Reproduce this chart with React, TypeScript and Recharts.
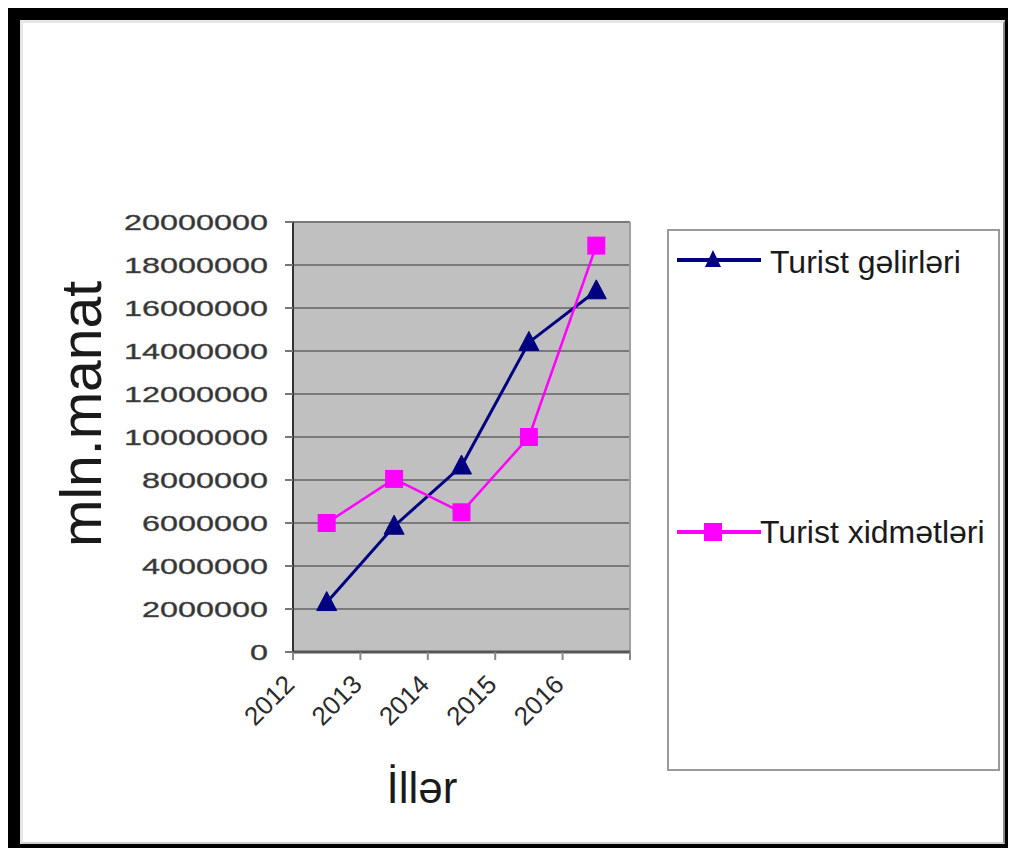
import React from 'react';
import { LineChart, Line, XAxis, YAxis, CartesianGrid, Legend, Label, ReferenceLine } from 'recharts';

const years = ['2012', '2013', '2014', '2015', '2016'];
const touristIncome = [2300000, 5850000, 8650000, 14400000, 16800000];
const touristServices = [6000000, 8050000, 6500000, 10000000, 18900000];
const yTicks = [0, 2000000, 4000000, 6000000, 8000000, 10000000, 12000000, 14000000, 16000000, 18000000, 20000000];
const xBoundaries = [0, 1, 2, 3, 4, 5];
const seriesNames = ['Turist gəlirləri', 'Turist xidmətləri'];

const data = years.map((y, i) => ({ x: i + 0.5, year: y, income: touristIncome[i], services: touristServices[i] }));

const FONT = '"Liberation Sans", Arial, sans-serif';
const NAVY = '#000080';
const MAGENTA = '#ff00ff';

const Triangle = (props: any) => {
  const { cx, cy } = props;
  if (cx == null || cy == null) return null;
  const w = 20, h = 18;
  return <polygon points={`${cx},${cy - h / 2 - 2} ${cx - w / 2},${cy + h / 2 - 1} ${cx + w / 2},${cy + h / 2 - 1}`} fill={NAVY} stroke={NAVY} strokeWidth={1} />;
};

const Square = (props: any) => {
  const { cx, cy } = props;
  if (cx == null || cy == null) return null;
  const s = 18;
  return <rect x={cx - s / 2} y={cy - s / 2} width={s} height={s} fill={MAGENTA} />;
};

const YTick = (props: any) => {
  const { x, y, payload } = props;
  const label = String(payload.value);
  const len = label.length * 18;
  return (
    <text x={x - len} y={y} dy={8} textLength={len} lengthAdjust="spacingAndGlyphs" fontSize={22} fontFamily={FONT} fill="#333" stroke="#555" strokeWidth={0.4}>
      {label}
    </text>
  );
};

const XTick = (props: any) => {
  const { x, y, payload } = props;
  const label = years[payload.value];
  if (!label) return <g />;
  const tx = x + 3, ty = y + 24;
  return (
    <text x={tx} y={ty} transform={`rotate(-45 ${tx} ${ty})`} textAnchor="end" fontSize={26} fontFamily={FONT} fill="#2a2a2a">
      {label}
    </text>
  );
};

const LegendContent = () => (
  <div style={{ position: 'relative', width: '100%', height: '100%', fontFamily: FONT }}>
    <svg width={90} height={24} style={{ position: 'absolute', left: 8, top: 17 }}>
      <line x1={0} y1={12} x2={84} y2={12} stroke={NAVY} strokeWidth={4} />
      <polygon points="36,2 28,19 44,19" fill={NAVY} />
    </svg>
    <div style={{ position: 'absolute', left: 101, top: 12, fontSize: 32, lineHeight: '38px', color: '#1a1a1a', whiteSpace: 'nowrap' }}>{seriesNames[0]}</div>
    <svg width={90} height={24} style={{ position: 'absolute', left: 8, top: 289 }}>
      <line x1={0} y1={12} x2={84} y2={12} stroke={MAGENTA} strokeWidth={4} />
      <rect x={27} y={3} width={18} height={18} fill={MAGENTA} />
    </svg>
    <div style={{ position: 'absolute', left: 91, top: 282, fontSize: 32, lineHeight: '38px', color: '#1a1a1a', whiteSpace: 'nowrap' }}>{seriesNames[1]}</div>
  </div>
);

export default function App() {
  return (
    <div style={{ margin: -8, width: 1016, height: 856, background: '#000', position: 'relative', overflow: 'hidden' }}>
      <div style={{ position: 'absolute', left: 20, top: 20, width: 985, height: 824, background: '#fff', boxSizing: 'border-box', borderTop: '3px solid #e6e6e6', borderLeft: '3px solid #e6e6e6', borderRight: '2px solid #8a8a8a', borderBottom: '2px solid #cfcfcf' }} />
      <div style={{ position: 'absolute', left: 0, top: 0 }}>
        <LineChart width={1016} height={856} data={data} margin={{ top: 222, right: 386, bottom: 0, left: 0 }}>
          <CartesianGrid vertical={false} fill="#c0c0c0" stroke="#7a7a7a" strokeWidth={2} />
          <XAxis
            type="number"
            dataKey="x"
            domain={[0, 5]}
            ticks={xBoundaries}
            interval={0}
            height={204}
            tickSize={8}
            axisLine={{ stroke: '#555', strokeWidth: 3 }}
            tickLine={{ stroke: '#888', strokeWidth: 2 }}
            tick={<XTick />}
          >
            <Label content={() => (
              <text x={422} y={803} textAnchor="middle" fontSize={44} fontFamily={FONT} fill="#1a1a1a">İllər</text>
            )} />
          </XAxis>
          <YAxis
            domain={[0, 20000000]}
            ticks={yTicks}
            interval={0}
            width={293}
            tickSize={8}
            tickMargin={17}
            axisLine={{ stroke: '#333', strokeWidth: 2 }}
            tickLine={{ stroke: '#777', strokeWidth: 2 }}
            tick={<YTick />}
          >
            <Label content={() => (
              <text x={101} y={414} transform="rotate(-90 101 414)" textAnchor="middle" fontSize={57} fontFamily={FONT} fill="#1a1a1a">mln.manat</text>
            )} />
          </YAxis>
          <ReferenceLine x={5} stroke="#a0a0a0" strokeWidth={2} />
          <Line type="linear" dataKey="income" name={seriesNames[0]} stroke={NAVY} strokeWidth={3} dot={<Triangle />} activeDot={false} isAnimationActive={false} />
          <Line type="linear" dataKey="services" name={seriesNames[1]} stroke={MAGENTA} strokeWidth={2.5} dot={<Square />} activeDot={false} isAnimationActive={false} />
          <Legend
            layout="horizontal"
            verticalAlign="middle"
            align="center"
            content={<LegendContent />}
            wrapperStyle={{ position: 'absolute', left: 667, top: 229, width: 333, height: 542, border: '2px solid #9a9a9a', boxSizing: 'border-box', background: '#fff' }}
          />
        </LineChart>
      </div>
    </div>
  );
}
